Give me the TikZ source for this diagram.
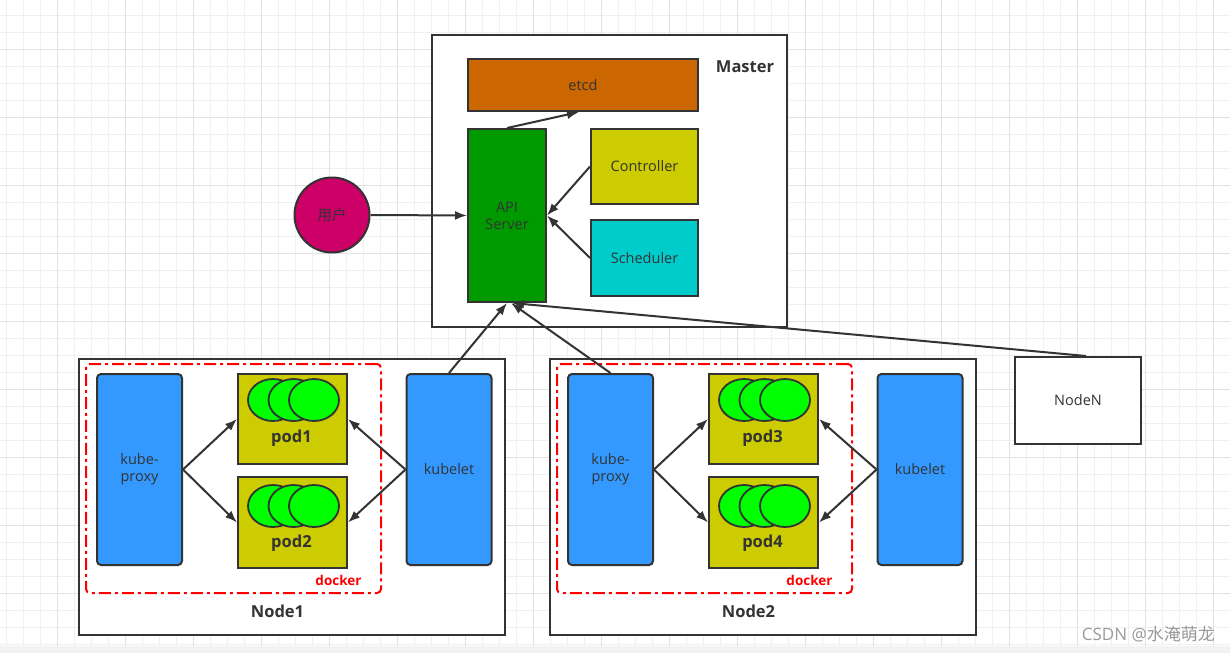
\documentclass[tikz,border=0pt]{standalone}
\usepackage{fontspec}
\setmainfont{Open Sans}
\newfontfamily\cjk{Noto Sans CJK SC}
\usetikzlibrary{arrows.meta}
\definecolor{ink}{HTML}{333333}
\definecolor{etcdc}{HTML}{CC6600}
\definecolor{apic}{HTML}{009900}
\definecolor{ctrlc}{HTML}{CCCC00}
\definecolor{schedc}{HTML}{00CCCC}
\definecolor{userc}{HTML}{CC0066}
\definecolor{bluec}{HTML}{3399FF}
\definecolor{greenc}{HTML}{00FF00}
\definecolor{gridminor}{HTML}{F0F0F0}
\definecolor{gridmajor}{HTML}{E2E2E2}
\definecolor{bandc}{HTML}{F2F2F2}
\definecolor{wmc}{HTML}{9A9A9A}
\tikzset{
  txt/.style={font=\fontsize{14.5}{17}\selectfont, text=ink},
  box/.style={draw=ink, line width=2pt, inner sep=0pt, txt},
  comp/.style={box, rounded corners=4pt},
  boldlbl/.style={font=\fontsize{16.5}{19}\selectfont\bfseries, text=ink, inner sep=0pt},
  dockerbox/.style={draw=red, line width=2pt, rounded corners=4pt, inner sep=0pt,
     dash pattern=on 12pt off 4pt on 3pt off 4pt},
  dockerlbl/.style={font=\fontsize{13.5}{15}\selectfont\bfseries, text=red, inner sep=0pt},
  arr/.style={draw=ink, line width=2pt, -{Latex[length=12pt,width=9pt]}},
  ell/.style={fill=greenc, draw=ink, line width=1.8pt},
}
\newcommand\worker[5]{%
\begin{scope}[xshift=#1]
  \node[box, fill=white, minimum width=426, minimum height=276] (node#2) at (292,497) {};
  \node[dockerbox, minimum width=295, minimum height=229] (docker#2) at (233.5,478.5) {};
  \node[comp, fill=bluec, minimum width=85, minimum height=191, align=center] (kp#2) at (139.5,469.5) {kube-\\proxy};
  \node[comp, fill=bluec, minimum width=85, minimum height=191] (kl#2) at (449,469.5) {kubelet};
  \node[box, fill=ctrlc, minimum width=109, minimum height=90] (pa#2) at (292.5,419) {};
  \node[box, fill=ctrlc, minimum width=109, minimum height=91] (pb#2) at (292.5,522.5) {};
  \foreach \cx in {273,293.5,314}{
    \draw[ell] (\cx,400) ellipse [x radius=25, y radius=21];
    \draw[ell] (\cx,506) ellipse [x radius=25, y radius=21];
  }
  \node[boldlbl] (pal#2) at (291.5,438) {#3};
  \node[boldlbl] (pbl#2) at (291.5,543) {#4};
  \node[dockerlbl] (dl#2) at (338.5,580) {docker};
  \node[boldlbl] (nl#2) at (277.5,611) {#5};
  \draw[arr] (kp#2.east) -- (pa#2.west);
  \draw[arr] (kp#2.east) -- (pb#2.west);
  \draw[arr] (kl#2.west) -- (pa#2.east);
  \draw[arr] (kl#2.west) -- (pb#2.east);
\end{scope}}
\begin{document}
\begin{tikzpicture}[x=1pt,y=-1pt]
\useasboundingbox (0,0) rectangle (1230,653);
\fill[white] (0,0) rectangle (1230,653);
% grid
\foreach \i in {0,...,71}{\draw[gridminor, line width=1pt] ({6.3+17*\i},0) -- ({6.3+17*\i},645.7);}
\foreach \j in {0,...,37}{\draw[gridminor, line width=1pt] (0,{15.3+17*\j}) -- (1230,{15.3+17*\j});}
\foreach \i in {1,...,18}{\draw[gridmajor, line width=1pt] ({-10.7+68*\i},0) -- ({-10.7+68*\i},645.7);}
\foreach \j in {0,...,8}{\draw[gridmajor, line width=1pt] (0,{49.3+68*\j}) -- (1230,{49.3+68*\j});}
\fill[bandc] (0,645.7) rectangle (1230,653);
% master
\node[box, fill=white, minimum width=355, minimum height=292] (master) at (609.5,181) {};
\node[boldlbl] (masterlbl) at (745,67) {Master};
\node[box, fill=etcdc, minimum width=230, minimum height=52] (etcd) at (583,85) {etcd};
\node[box, fill=apic, minimum width=78, minimum height=173, align=center] (api) at (507,215.5) {API\\Server};
\node[box, fill=ctrlc, minimum width=107, minimum height=75] (ctrl) at (644.5,166.5) {Controller};
\node[box, fill=schedc, minimum width=107, minimum height=76] (sched) at (644.5,258) {Scheduler};
\node[box, circle, fill=userc, minimum size=75] (user) at (332,215) {\cjk 用户};
\draw[arr] (api.north) -- ([xshift=-4pt]etcd.south);
\draw[arr] (ctrl.west) -- (api.east);
\draw[arr] (sched.west) -- (api.east);
\draw[arr] (user.east) -- (api.west);
% workers
\worker{0pt}{1}{pod1}{pod2}{Node1}
\worker{471pt}{2}{pod3}{pod4}{Node2}
\node[box, fill=white, minimum width=126, minimum height=87] (nodeN) at (1078,400.5) {NodeN};
\draw[arr] (kl1.north) -- (api.south);
\draw[arr] (kp2.north) -- ([xshift=4pt]api.south);
\draw[arr] ([xshift=8pt]nodeN.north) -- ([xshift=5pt]api.south);
% watermark
\node[font=\fontsize{17}{19}\selectfont, text=wmc, anchor=east, inner sep=0pt] (wm) at (1215,634) {CSDN @{\cjk 水淹萌龙}};
\end{tikzpicture}
\end{document}
